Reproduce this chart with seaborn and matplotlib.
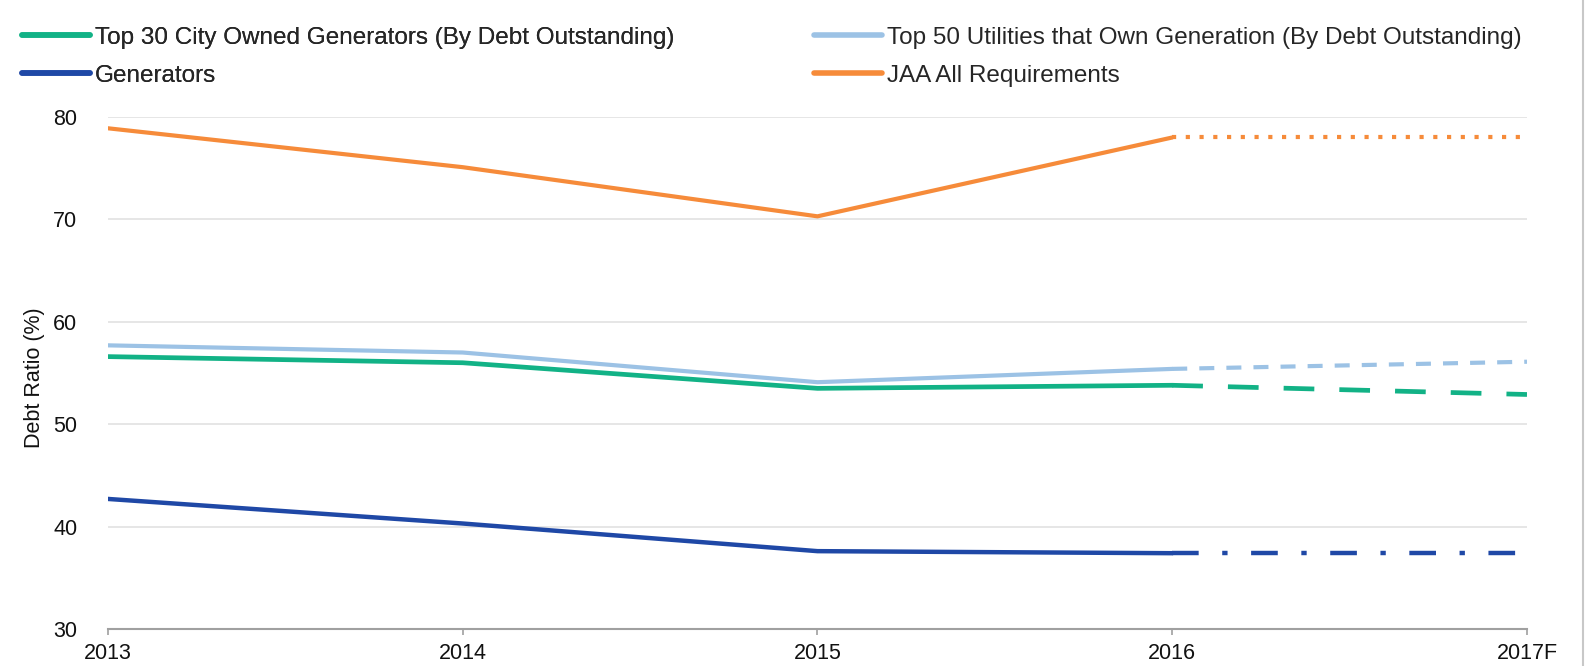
import matplotlib
matplotlib.use("Agg")
import matplotlib.pyplot as plt
import seaborn as sns
import pandas as pd
from matplotlib.lines import Line2D

years = ["2013", "2014", "2015", "2016", "2017F"]
top30_city = [56.6, 56.0, 53.5, 53.8, 52.9]
top50_util = [57.7, 57.0, 54.1, 55.4, 56.1]
generators = [42.7, 40.3, 37.6, 37.4, 37.4]
jaa_all_req = [78.9, 75.1, 70.3, 78.0, 78.0]

series_names = [
    "Top 30 City Owned Generators (By Debt Outstanding)",
    "Top 50 Utilities that Own Generation (By Debt Outstanding)",
    "Generators",
    "JAA All Requirements",
]
series_values = [top30_city, top50_util, generators, jaa_all_req]
colors = ["#12b286", "#9cc2e5", "#1f48a6", "#f68b3a"]
widths = [3.4, 3.0, 3.2, 3.0]
fc_dashes = [(6.5, 5.3), (3.6, 2.9), (6.0, 5.3, 1.2, 5.3), (1.0, 2.3)]

sns.set_theme(style="white")
plt.rcParams["font.family"] = ["Liberation Sans", "DejaVu Sans"]

fig = plt.figure(figsize=(15.85, 6.66), dpi=100)
ax = fig.add_axes([0.0681, 0.0556, 0.8953, 0.7687])

xpos = list(range(len(years)))
for name, vals, c, lw, d in zip(series_names, series_values, colors, widths, fc_dashes):
    hist = pd.DataFrame({"x": xpos[:4], "y": vals[:4]})
    fc = pd.DataFrame({"x": xpos[3:], "y": vals[3:]})
    sns.lineplot(data=hist, x="x", y="y", ax=ax, color=c, lw=lw, solid_capstyle="round")
    l = sns.lineplot(data=fc, x="x", y="y", ax=ax, color=c, lw=lw)
    l.lines[-1].set_dashes(d)
    l.lines[-1].set_dash_capstyle("butt")

ax.set_xlim(0, 4)
ax.set_ylim(30, 80)
ax.set_yticks([30, 40, 50, 60, 70, 80])
ax.set_xticks(xpos)
ax.set_xticklabels(years)
ax.yaxis.grid(True, color="#e2e2e2", lw=1.2)
ax.xaxis.grid(False)
ax.set_axisbelow(True)
for s in ["top", "right", "left"]:
    ax.spines[s].set_visible(False)
ax.spines["bottom"].set_color("#a0a0a0")
ax.spines["bottom"].set_linewidth(1.5)
ax.tick_params(axis="x", which="both", bottom=True, length=4, width=1.2, color="#a0a0a0",
               labelsize=15.5, pad=6, labelcolor="#111111")
ax.tick_params(axis="y", length=0, labelsize=15.5, pad=22, labelcolor="#111111")
ax.set_xlabel("")
ax.set_ylabel("Debt Ratio (%)", fontsize=15.5, color="#111111")
ax.yaxis.set_label_coords(-0.0444, 0.49)

handles = [Line2D([0], [0], color=c, lw=4) for c in colors]
lkw = dict(loc="upper left", frameon=False, fontsize=17.5, handlelength=2.8,
           handletextpad=0.2, labelspacing=0.66, borderpad=0, borderaxespad=0)
leg1 = fig.legend([handles[0], handles[2]], [series_names[0], series_names[2]],
                  bbox_to_anchor=(0.0139, 0.960), **lkw)
leg2 = fig.legend([handles[1], handles[3]], [series_names[1], series_names[3]],
                  bbox_to_anchor=(0.5135, 0.960), **lkw)
fig.add_artist(leg1)

fig.add_artist(Line2D([0.9985, 0.9985], [0, 1], transform=fig.transFigure, color="#c8c8c8", lw=1.5))

fig.savefig("out.png", dpi=100)
